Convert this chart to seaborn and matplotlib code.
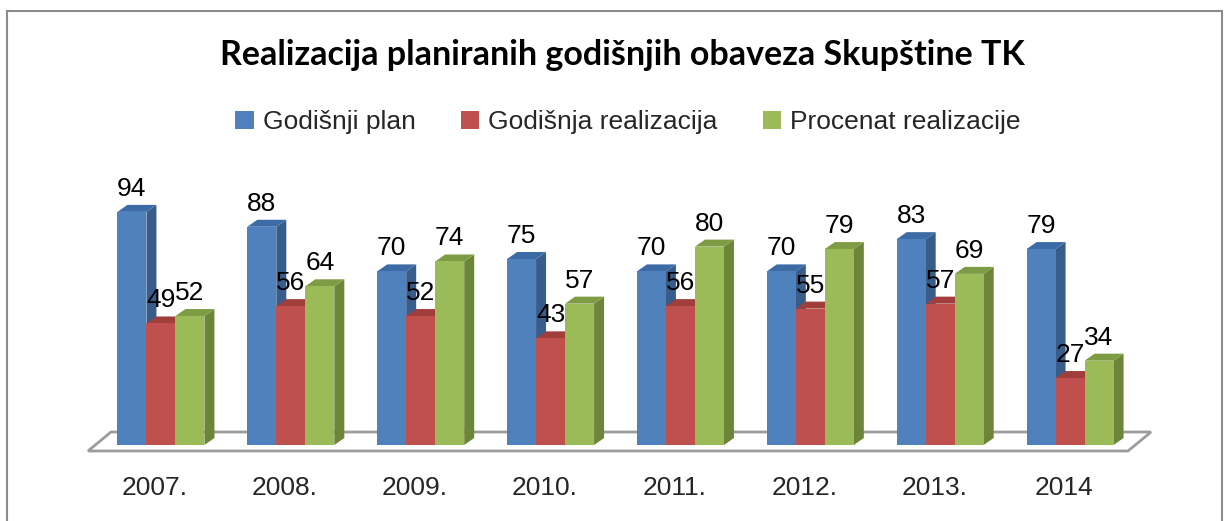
import pandas as pd
import seaborn as sns
import matplotlib.pyplot as plt
from matplotlib.patches import Polygon, Rectangle
from matplotlib.transforms import ScaledTranslation

years = ["2007.", "2008.", "2009.", "2010.", "2011.", "2012.", "2013.", "2014"]
plan = [94, 88, 70, 75, 70, 70, 83, 79]
realizacija = [49, 56, 52, 43, 56, 55, 57, 27]
procenat = [52, 64, 74, 57, 80, 79, 69, 34]
series = ["Godišnji plan", "Godišnja realizacija", "Procenat realizacije"]

front = ["#4F81BD", "#C0504D", "#9BBB59"]
side = ["#385D8A", "#8C3A38", "#6C8538"]
top = ["#3D6BA5", "#A03E3C", "#7E9C44"]

df = pd.DataFrame({
    "year": years * 3,
    "value": plan + realizacija + procenat,
    "series": [s for s in series for _ in years],
})

sns.set_style("white")
plt.rcParams["font.family"] = ["Liberation Sans", "DejaVu Sans"]

fig = plt.figure(figsize=(12.25, 5.21), dpi=100)
ax = fig.add_axes([96 / 1225, 76 / 521, 1039 / 1225, 248 / 521])
sns.barplot(data=df, x="year", y="value", hue="series", palette=front,
            width=0.67, saturation=1, ax=ax, legend=False,
            edgecolor="none", linewidth=0, zorder=3)
ax.set_xlim(-0.5, 7.5)
ax.set_ylim(0, 100)
for s in ax.spines.values():
    s.set_visible(False)
ax.set_yticks([])
ax.set_xlabel("")
ax.set_ylabel("")
ax.tick_params(axis="x", length=0, labelsize=19, pad=22)
# category labels sit a bit left of the bar groups
shift = ScaledTranslation(-6 / 100, 0, fig.dpi_scale_trans)
for lab in ax.get_xticklabels():
    lab.set_transform(lab.get_transform() + shift)

# pixel -> data units
fig.canvas.draw()
p0 = ax.transData.transform((0, 0))
p1 = ax.transData.transform((1, 1))
ux, uy = p1[0] - p0[0], p1[1] - p0[1]

# floor
fx0, fx1 = -0.5 - 8 / ux, 7.5 - 7 / ux
fy0 = -6 / uy
bx, by = 23 / ux, 19 / uy
floor = Polygon([(fx0, fy0), (fx1, fy0), (fx1 + bx, fy0 + by), (fx0 + bx, fy0 + by)],
                closed=True, facecolor="white", edgecolor="#9C9C9C", lw=2,
                zorder=1, clip_on=False)
ax.add_patch(floor)

# 3d faces
dx, dy = 10 / ux, 7 / uy
bars = sorted(ax.patches[:len(df)], key=lambda p: p.get_x())
bars = [b for b in bars if b is not floor]
for b in bars:
    x, w, h = b.get_x(), b.get_width(), b.get_height()
    fc = b.get_facecolor()
    k = min(range(3), key=lambda i: sum(abs(a - c) for a, c in zip(plt.matplotlib.colors.to_rgb(front[i]), fc[:3])))
    ax.add_patch(Polygon([(x + w, 0), (x + w + dx, dy), (x + w + dx, h + dy), (x + w, h)],
                         closed=True, facecolor=side[k], edgecolor="none", zorder=2, clip_on=False))
    ax.add_patch(Polygon([(x, h), (x + dx, h + dy), (x + w + dx, h + dy), (x + w, h)],
                         closed=True, facecolor=top[k], edgecolor="none", zorder=2, clip_on=False))
    ax.annotate(f"{h:.0f}", (x + w / 2, h), xytext=(0, 11), textcoords="offset pixels",
                ha="center", va="bottom", fontsize=19, color="black",
                annotation_clip=False, zorder=5)

# legend
handles = [Rectangle((0, 0), 1, 1, facecolor=c, edgecolor="none") for c in front]
fig.legend(handles, series, loc="center", bbox_to_anchor=(628 / 1225, 1 - 122 / 521),
           ncol=3, frameon=False, fontsize=19, handlelength=0.7, handleheight=0.7,
           handletextpad=0.35, columnspacing=1.7)

fig.text(622 / 1225, 1 - 55 / 521, "Realizacija planiranih godišnjih obaveza Skupštine TK",
         ha="center", va="center", fontsize=24.5, fontweight="bold", color="black",
         family=["Lato", "DejaVu Sans"])

fig.patches.append(Rectangle((7 / 1225, -0.1), 1215 / 1225, 1.1 - 11 / 521,
                             transform=fig.transFigure, fill=False,
                             edgecolor="#8C8C8C", lw=1.5))

fig.savefig("out.png", dpi=100)
